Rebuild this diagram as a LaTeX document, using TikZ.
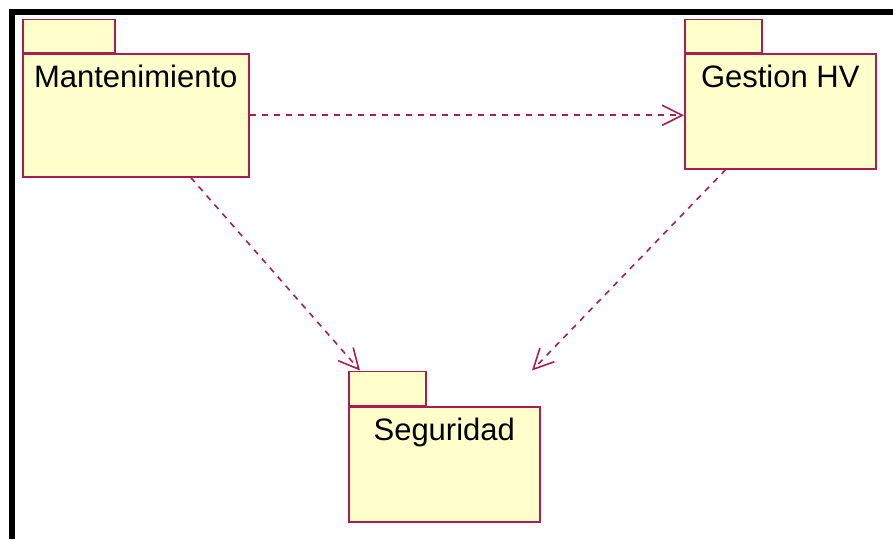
\documentclass[tikz,border=0pt]{standalone}
\usepackage{fontspec}
\setmainfont{Liberation Sans}
\usetikzlibrary{arrows.meta}
\definecolor{rosered}{RGB}{170,30,80}
\definecolor{roseyellow}{RGB}{255,255,204}

\begin{document}
\begin{tikzpicture}[x=1pt,y=-1pt,
    pkg/.style={draw=rosered,fill=roseyellow,line width=1.5pt,anchor=north west,
        inner xsep=0pt,inner ysep=10pt,text height=24pt,
        font=\fontsize{31}{36}\selectfont},
    pkgtab/.style={draw=rosered,fill=roseyellow,line width=1.5pt,anchor=south west,
        inner sep=0pt,minimum height=33pt},
    dep/.style={draw=rosered,line width=1.6pt,dash pattern=on 6pt off 6pt,
        -{Straight Barb[length=20pt,width=20pt]}}]
\useasboundingbox (0,0) rectangle (893,539);
\draw[line width=6pt] (12,539) -- (12,12) -- (893,12);

\node[pkg,minimum width=226pt,text depth=79pt] (mant) at (22,53) {Mantenimiento};
\node[pkgtab,minimum width=92pt] (manttab) at (mant.north west) {};
\node[pkg,minimum width=191pt,text depth=71pt] (gest) at (684,53) {Gestion HV};
\node[pkgtab,minimum width=77pt] (gesttab) at (gest.north west) {};
\node[pkg,minimum width=191pt,text depth=71pt] (seg) at (348,406) {Seguridad};
\node[pkgtab,minimum width=77pt,minimum height=34pt] (segtab) at (seg.north west) {};

\draw[dep] (mant.east) -- (mant.east -| gest.west);
\draw[dep] ([xshift=55pt]mant.south) -- ([xshift=12pt]segtab.north west);
\draw[dep] ([xshift=-54.5pt]gest.south) -- ([xshift=184pt]segtab.north west);
\end{tikzpicture}
\end{document}
